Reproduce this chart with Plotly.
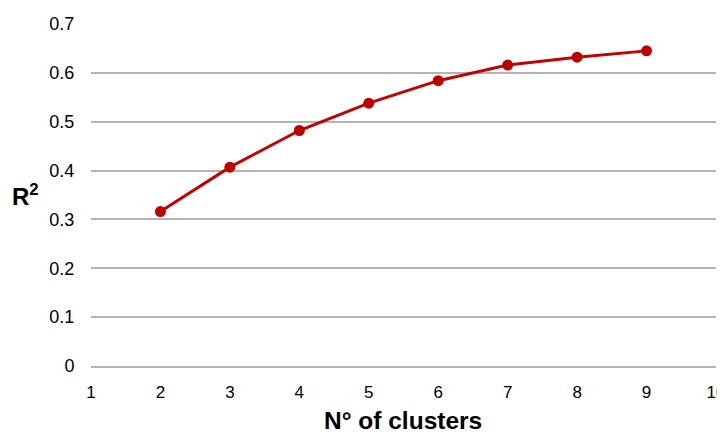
import plotly.graph_objects as go

clusters = [2, 3, 4, 5, 6, 7, 8, 9]
r2 = [0.316, 0.407, 0.482, 0.538, 0.584, 0.616, 0.632, 0.645]
x_ticks = [1, 2, 3, 4, 5, 6, 7, 8, 9, 10]
y_ticks = [0, 0.1, 0.2, 0.3, 0.4, 0.5, 0.6, 0.7]

font = "Liberation Sans, Arial, sans-serif"

# page body has an 8px margin; figure sized to fit the window
W, H = 717, 425
L, R, T, B = 83, 9, 16, 67
pw, ph = W - L - R, H - T - B


def px_to_paper(sx, sy):
    fx, fy = sx - 8, sy - 8
    return (fx - L) / pw, (H - B - fy) / ph


fig = go.Figure()
fig.add_trace(go.Scatter(
    x=clusters, y=r2, mode="lines+markers",
    line=dict(color="#C00000", width=3),
    marker=dict(color="#C00000", size=11),
    showlegend=False, cliponaxis=False,
))

tx, ty = px_to_paper(403, 420.5)
rx, ry = px_to_paper(25, 195)

fig.update_layout(
    width=W, height=H,
    margin=dict(l=L, r=R, t=T, b=B),
    paper_bgcolor="white", plot_bgcolor="white",
    font=dict(family=font, size=18, color="#000000"),
    xaxis=dict(
        range=[1, 10], tickvals=x_ticks, showgrid=False, zeroline=False,
        showline=True, linecolor="#B4B4B4", linewidth=1.5,
        ticks="outside", ticklen=10, tickcolor="rgba(0,0,0,0)",
        tickfont=dict(size=17), ticklabeloverflow="allow", automargin=False,
    ),
    yaxis=dict(
        range=[0, 0.7], tickvals=y_ticks, showgrid=True, gridcolor="#B4B4B4",
        gridwidth=1.5, zeroline=False, showline=False,
        ticks="outside", ticklen=12, tickcolor="rgba(0,0,0,0)",
        tickfont=dict(size=18), automargin=False,
    ),
    annotations=[
        dict(text="<b>N° of clusters</b>", x=tx, y=ty, xref="paper", yref="paper",
             xanchor="center", yanchor="middle", showarrow=False,
             font=dict(size=24.5, family=font)),
        dict(text="<b>R<sup>2</sup></b>", x=rx, y=ry, xref="paper", yref="paper",
             xanchor="center", yanchor="middle", showarrow=False,
             font=dict(size=24, family=font)),
    ],
)

fig.write_html("out.html")
